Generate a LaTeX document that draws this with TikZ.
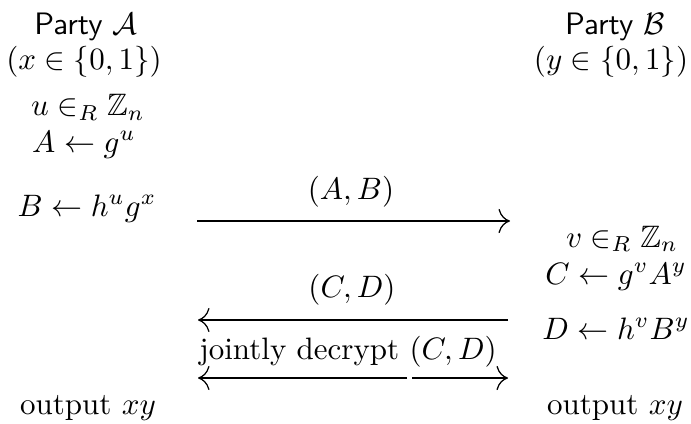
\documentclass[tikz,border=0pt]{standalone}
\usepackage{amssymb}
\usetikzlibrary{arrows.meta}
\begin{document}
\begin{tikzpicture}[x=0.3226pt,y=-0.3226pt,
  lbl/.style={anchor=base,inner sep=0pt,outer sep=0pt},
  msg/.style={line width=0.4pt,-{Computer Modern Rightarrow[scale=1.5]}}]
\useasboundingbox (0,0) rectangle (691,423);
% Party A column
\node[lbl] (pa)  at (86,35)  {\textsf{Party} $\mathcal{A}$};
\node[lbl] (xin) at (84,69)  {$(x\in\{0,1\})$};
\node[lbl] (u)   at (88,116) {$u\in_R\mathbb{Z}_n$};
\node[lbl] (A)   at (84,152) {$A\leftarrow g^u$};
\node[lbl] (B)   at (87,216) {$B\leftarrow h^u g^x$};
\node[lbl] (oa)  at (88,414) {output $xy$};
% Party B column
\node[lbl] (pb)  at (615,35)  {\textsf{Party} $\mathcal{B}$};
\node[lbl] (yin) at (611,69)  {$(y\in\{0,1\})$};
\node[lbl] (v)   at (622,247) {$v\in_R\mathbb{Z}_n$};
\node[lbl] (C)   at (616,284) {$C\leftarrow g^v A^y$};
\node[lbl] (D)   at (616,339) {$D\leftarrow h^v B^y$};
\node[lbl] (ob)  at (615,414) {output $xy$};
% messages
\node[lbl] (m1) at (351,199) {$(A,B)$};
\node[lbl] (m2) at (352,297) {$(C,D)$};
\node[lbl] (m3) at (348,359) {jointly decrypt\ $(C,D)$};
\coordinate (a1s) at (197,221); \coordinate (a1e) at (510,221);
\coordinate (a2s) at (508,320); \coordinate (a2e) at (198,320);
\coordinate (a3l) at (198,378); \coordinate (a3m) at (407,378);
\coordinate (a3n) at (412,378); \coordinate (a3r) at (508,378);
\draw[msg] (a1s) -- (a1e);
\draw[msg] (a2s) -- (a2e);
\draw[msg] (a3m) -- (a3l);
\draw[msg] (a3n) -- (a3r);
\end{tikzpicture}
\end{document}
